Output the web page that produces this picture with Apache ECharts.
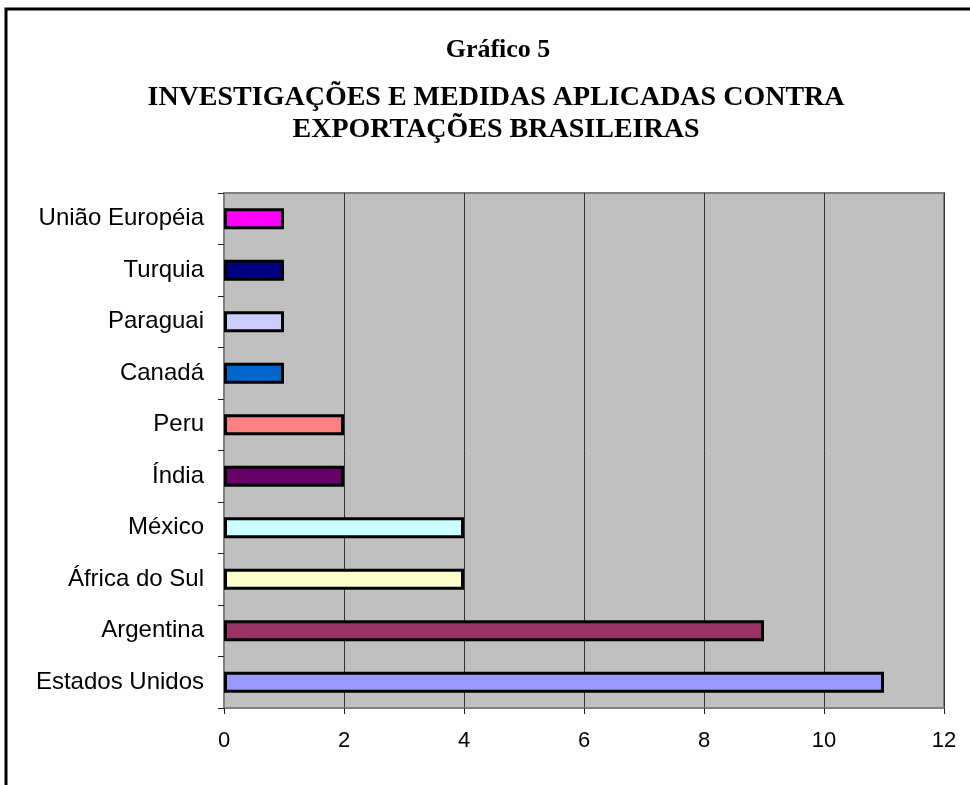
<!DOCTYPE html>
<html>
<head>
<meta charset="utf-8">
<script src="https://cdn.jsdelivr.net/npm/echarts@6/dist/echarts.min.js"></script>
<style>
html,body{margin:0;padding:0;background:#fff;}
#chart{width:970px;height:785px;}
</style>
</head>
<body>
<div id="chart"></div>
<script>
// Categories listed bottom-to-top (ECharts category y axis starts at the bottom)
const categories = ["Estados Unidos", "Argentina", "África do Sul", "México", "Índia", "Peru", "Canadá", "Paraguai", "Turquia", "União Européia"];
const values = [11, 9, 4, 4, 2, 2, 1, 1, 1, 1];
const barColors = ["#9999FF", "#993366", "#FFFFCC", "#CCFFFF", "#660066", "#FF8080", "#0066CC", "#CCCCFF", "#000080", "#FF00FF"];
const titleLines = ["Gráfico 5", "INVESTIGAÇÕES E MEDIDAS APLICADAS CONTRA", "EXPORTAÇÕES BRASILEIRAS"];
const xMin = 0, xMax = 12, xInterval = 2;

const chart = echarts.init(document.getElementById('chart'), null, {renderer: 'canvas'});

const titleFont = {fontFamily: '"Liberation Serif", "Times New Roman", serif', fontWeight: 'bold', color: '#000'};

chart.setOption({
  animation: false,
  backgroundColor: '#fff',
  graphic: [
    {type: 'polyline', shape: {points: [[6, 785], [6, 9], [970, 9]]}, style: {stroke: '#000', lineWidth: 3, fill: null}, silent: true},
    {type: 'text', x: 498, y: 50, style: Object.assign({text: titleLines[0], fontSize: 26, align: 'center', verticalAlign: 'middle'}, titleFont)},
    {type: 'text', x: 496, y: 98, style: Object.assign({text: titleLines[1], fontSize: 28, align: 'center', verticalAlign: 'middle'}, titleFont)},
    {type: 'text', x: 496, y: 130, style: Object.assign({text: titleLines[2], fontSize: 28, align: 'center', verticalAlign: 'middle'}, titleFont)}
  ],
  grid: {
    left: 224, top: 193, right: 26, bottom: 77,
    show: true, backgroundColor: '#C0C0C0', borderColor: '#808080', borderWidth: 2,
    containLabel: false
  },
  xAxis: {
    type: 'value', min: xMin, max: xMax, interval: xInterval,
    axisLine: {show: true, lineStyle: {color: '#808080', width: 2}},
    axisTick: {show: true, length: 6, lineStyle: {color: '#222', width: 1}},
    axisLabel: {fontFamily: '"Liberation Sans", Arial, sans-serif', fontSize: 22, color: '#000', margin: 22},
    splitLine: {show: true, lineStyle: {color: '#333', width: 1}}
  },
  yAxis: {
    type: 'category', data: categories,
    axisLine: {show: true, lineStyle: {color: '#808080', width: 2}},
    axisTick: {show: true, length: 6, lineStyle: {color: '#222', width: 1}},
    axisLabel: {fontFamily: '"Liberation Sans", Arial, sans-serif', fontSize: 24, color: '#000', margin: 20}
  },
  series: [{
    type: 'bar',
    barWidth: 21,
    data: values.map((v, i) => ({value: v, itemStyle: {color: barColors[i]}})),
    itemStyle: {borderColor: '#000', borderWidth: 3}
  }]
});
</script>
</body>
</html>
